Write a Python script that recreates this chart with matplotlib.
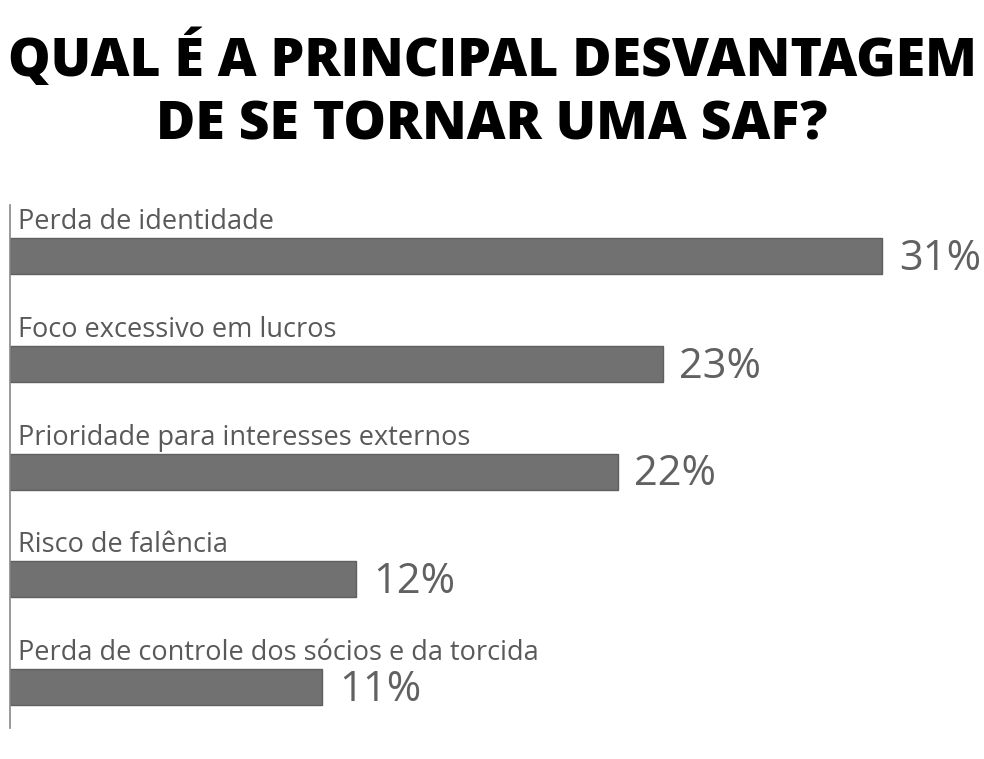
import numpy as np
import matplotlib
matplotlib.use("Agg")
import matplotlib.pyplot as plt

title_lines = ["QUAL É A PRINCIPAL DESVANTAGEM", "DE SE TORNAR UMA SAF?"]
categories = [
    "Perda de identidade",
    "Foco excessivo em lucros",
    "Prioridade para interesses externos",
    "Risco de falência",
    "Perda de controle dos sócios e da torcida",
]
# bar lengths; labels are the rounded shares
values = [31.0, 23.2, 21.6, 12.3, 11.1]

W, H = 984, 759
fig = plt.figure(figsize=(W / 100, H / 100), dpi=100)

# axes in pixel terms: left edge at x=10, top 205, bottom 728
ax = fig.add_axes([10 / W, (H - 728) / H, (W - 10) / W, (728 - 205) / H])
step = 107.75  # px between bars
ax.set_ylim((728 - 256) / step, (205 - 256) / step)
ax.set_xlim(0, (W - 10) / 28.13)

y = np.arange(len(values))
ax.barh(y, values, height=36 / step, color="#717171", edgecolor="#5f5f5f",
        linewidth=1.0)

for i, (cat, v) in enumerate(zip(categories, values)):
    ax.text(0.28, i - 27 / step, cat, fontsize=19.5, family="Open Sans",
            color="#595959", va="baseline", ha="left")
    ax.text(v + 0.6, i + 14 / step, f"{round(v)}%", fontsize=30,
            family="Open Sans", color="#616161", va="baseline", ha="left")

for s in ["top", "right", "bottom"]:
    ax.spines[s].set_visible(False)
ax.spines["left"].set_color("#888888")
ax.spines["left"].set_linewidth(1.2)
ax.set_xticks([])
ax.set_yticks([])

for line, ypix in zip(title_lines, [60, 126]):
    fig.text(0.5, (H - ypix) / H, line, fontsize=38.5, family="Open Sans",
             weight=800, ha="center", va="center", color="black")

fig.savefig("out.png", dpi=100, facecolor="white")
